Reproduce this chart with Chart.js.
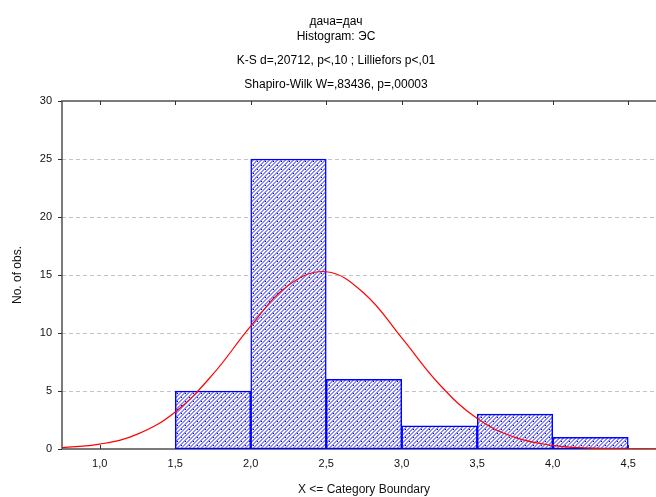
<!DOCTYPE html>
<html>
<head>
<meta charset="utf-8">
<script src="https://cdn.jsdelivr.net/npm/chart.js@4.4.1/dist/chart.umd.min.js"></script>
<style>
  html, body { margin: 0; padding: 0; background: #fff; overflow: hidden; }
  #wrap { width: 668px; height: 497px; }
</style>
</head>
<body>
<div id="wrap"><canvas id="c" width="668" height="497"></canvas></div>
<script>
// histogram bins (upper boundary - 0.25 = bin middle) and counts
const binMids = [1.25, 1.75, 2.25, 2.75, 3.25, 3.75, 4.25];
const counts = [0, 5, 25, 6, 2, 3, 1];

// expected normal curve
const curveX = [0.75, 1.0, 1.25, 1.5, 1.75, 2.0, 2.25, 2.5, 2.75, 3.0, 3.25, 3.5, 3.75, 4.0, 4.25, 4.5, 4.75];
const curveY = [0.11, 0.42, 1.28, 3.19, 6.45, 10.59, 14.12, 15.28, 13.43, 9.58, 5.56, 2.62, 1.0, 0.31, 0.08, 0.02, 0.0];

const xTicks = [1.0, 1.5, 2.0, 2.5, 3.0, 3.5, 4.0, 4.5];
const xTickLabels = ['1,0', '1,5', '2,0', '2,5', '3,0', '3,5', '4,0', '4,5'];
const yTicks = [0, 5, 10, 15, 20, 25, 30];

const titleLines = [
  'дача=дач',
  'Histogram: ЭС',
  'K-S d=,20712, p<,10 ; Lilliefors p<,01',
  'Shapiro-Wilk W=,83436, p=,00003'
];

const FONT = '"Liberation Sans", Arial, sans-serif';

function hatch() {
  const c = document.createElement('canvas');
  c.width = 8; c.height = 8;
  const g = c.getContext('2d');
  g.fillStyle = '#ffffff';
  g.fillRect(0, 0, 8, 8);
  g.fillStyle = '#8c8cff';
  for (let y = 0; y < 8; y++) {
    for (let x = 0; x < 8; x++) {
      if ((x + y) % 4 < 2) g.fillRect(x, y, 1, 1);
    }
  }
  g.fillStyle = '#0000b0';
  g.fillRect(1, 1, 1, 1);
  g.fillRect(5, 5, 1, 1);
  return g.createPattern(c, 'repeat');
}

const frame = {
  id: 'frame',
  beforeDatasetsDraw(chart) {
    const { ctx, chartArea: a, scales: { x, y } } = chart;
    ctx.save();
    // dashed horizontal grid
    ctx.strokeStyle = '#c4c4c4';
    ctx.lineWidth = 1;
    ctx.setLineDash([4, 3]);
    yTicks.forEach(v => {
      if (v === 0 || v === 30) return;
      const py = Math.round(y.getPixelForValue(v)) + 0.5;
      ctx.beginPath(); ctx.moveTo(a.left, py); ctx.lineTo(a.right, py); ctx.stroke();
    });
    ctx.setLineDash([]);
    // axes box (no right side)
    ctx.strokeStyle = '#505050';
    ctx.lineWidth = 1.5;
    ctx.beginPath();
    ctx.moveTo(a.right, a.top); ctx.lineTo(a.left, a.top);
    ctx.lineTo(a.left, a.bottom); ctx.lineTo(a.right, a.bottom);
    ctx.stroke();
    ctx.lineWidth = 1;
    ctx.strokeStyle = '#333';
    xTicks.forEach(v => {
      const px = Math.round(x.getPixelForValue(v)) + 0.5;
      ctx.beginPath();
      ctx.moveTo(px, a.top); ctx.lineTo(px, a.top + 4);
      ctx.moveTo(px, a.bottom); ctx.lineTo(px, a.bottom - 4);
      ctx.stroke();
    });
    yTicks.forEach(v => {
      const py = Math.round(y.getPixelForValue(v)) + 0.5;
      ctx.beginPath(); ctx.moveTo(a.left - 4, py); ctx.lineTo(a.left, py); ctx.stroke();
    });
    ctx.restore();
  },
  afterDraw(chart) {
    const ctx = chart.ctx;
    const base = [25, 40, 64, 88];
    ctx.save();
    ctx.fillStyle = '#000';
    ctx.font = '12px ' + FONT;
    ctx.textAlign = 'center';
    ctx.textBaseline = 'alphabetic';
    titleLines.forEach((t, i) => ctx.fillText(t, 336, base[i]));
    ctx.restore();
  }
};

new Chart(document.getElementById('c'), {
  type: 'bar',
  data: {
    datasets: [
      {
        type: 'line',
        data: curveX.map((v, i) => ({ x: v, y: curveY[i] })),
        borderColor: '#ff0000',
        borderWidth: 1.2,
        pointRadius: 0,
        tension: 0.4,
        fill: false,
        order: 0
      },
      {
        type: 'bar',
        data: binMids.map((v, i) => ({ x: v, y: counts[i] })),
        backgroundColor: hatch(),
        borderColor: '#0000ff',
        borderWidth: 1.5,
        borderSkipped: false,
        barPercentage: 1,
        categoryPercentage: 1,
        order: 1
      }
    ]
  },
  plugins: [frame],
  options: {
    responsive: false,
    animation: false,
    layout: { padding: { top: 101, left: 0, right: 2, bottom: 0 } },
    plugins: { legend: { display: false }, tooltip: { enabled: false } },
    scales: {
      x: {
        type: 'linear',
        offset: false,
        min: 0.75,
        max: 4.75,
        afterBuildTicks: s => { s.ticks = xTicks.map(v => ({ value: v })); },
        afterFit: s => { s.height = 48; },
        grid: { display: false, drawTicks: false, offset: false },
        border: { display: false },
        ticks: {
          padding: 8,
          color: '#111',
          font: { family: FONT, size: 11 },
          maxRotation: 0,
          callback: (v) => xTickLabels[xTicks.indexOf(v)]
        },
        title: {
          display: true,
          text: 'X <= Category Boundary',
          color: '#111',
          font: { family: FONT, size: 12 },
          padding: { top: 0, bottom: 0 }
        }
      },
      y: {
        min: 0,
        max: 30,
        afterBuildTicks: s => { s.ticks = yTicks.map(v => ({ value: v })); },
        afterFit: s => { s.width = 62; },
        grid: { display: false, drawTicks: false },
        border: { display: false },
        ticks: {
          padding: 10,
          color: '#111',
          font: { family: FONT, size: 11 }
        },
        title: {
          display: true,
          text: 'No. of obs.',
          color: '#111',
          font: { family: FONT, size: 12 },
          padding: { top: 10, bottom: 0 }
        }
      }
    }
  }
});
</script>
</body>
</html>
